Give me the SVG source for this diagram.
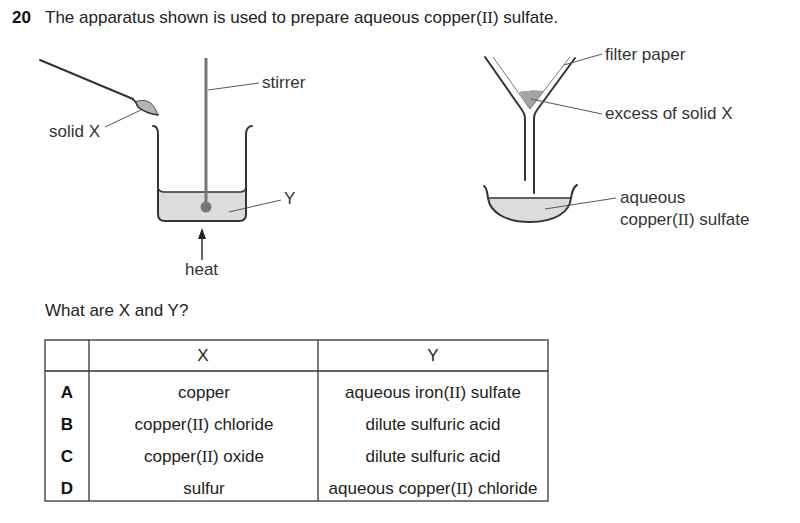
<svg xmlns="http://www.w3.org/2000/svg" width="800" height="523" viewBox="0 0 800 523">
<defs><marker id="arrow" markerUnits="userSpaceOnUse" markerWidth="11" markerHeight="8" refX="0" refY="4" orient="auto" viewBox="0 0 11 8"><path d="M0 0L11 4L0 8Z" fill="#222"/></marker></defs>
<style>
text{font-family:"Liberation Sans",Arial,sans-serif;font-size:17px;fill:#333}
.q{fill:#222}
.r{font-family:"Liberation Serif","Times New Roman",serif}
.m{text-anchor:middle;fill:#222}
.b{font-weight:700;fill:#111}
.ink{fill:none;stroke:#333;stroke-width:2;stroke-linecap:round;stroke-linejoin:round}
.lead{fill:none;stroke:#555;stroke-width:1}
.grid{fill:none;stroke:#333;stroke-width:1.300}
</style>
<rect width="800" height="523" fill="#fff"/>
<g id="question">
<text x="12" y="23" class="b">20</text>
<text x="45" y="23" class="q">The apparatus shown is used to prepare aqueous copper(<tspan class="r">II</tspan>) sulfate.</text>
<text x="45" y="316" class="q">What are X and Y?</text>
</g>
<g id="spatula">
<path class="ink" d="M40 60L133 99"/>
<path d="M133 100C136 100 136 104 138 107C144 112 151 114 158 115C156 110 154 105 149 102C145 100 140 100 135 102Z" fill="#b4b4b4" stroke="#444" stroke-width="1"/>
<path class="ink" style="stroke-width:1.600" d="M133 100C136 100 136 104 138 107C144 112 151 114 158 115"/>
</g>
<g id="beaker">
<path d="M158 192H246V214Q246 221 239 221H165Q158 221 158 214Z" fill="#dcdcdc"/>
<path class="ink" d="M153 126C157 126 158 130 158 134V214Q158 221 165 221H239Q246 221 246 214V134C246 130 248 126 252 126"/>
<path class="ink" style="stroke-width:1.500" d="M158 188C159 191 161 192 164 192H240C243 192 245 191 246 188"/>
<path d="M206 58V207" stroke="#777" stroke-width="3" fill="none"/>
<circle cx="206" cy="207" r="5.500" fill="#777"/>
</g>
<g id="funnel">
<path d="M519 92C524 90 528 92 532 90C536 90 540 91 544 91L530 109Z" fill="#a4a4a4"/>
<path class="ink" d="M485 57L522 110Q525 114 525 118V180"/>
<path class="ink" d="M575 58L537 110Q534 114 534 118V193"/>
<path d="M493 57L530 109L570 57" fill="none" stroke="#777" stroke-width="1"/>
</g>
<g id="dish">
<path d="M489 198H571C570 212 555 222 530 222C505 222 490 212 489 198Z" fill="#dcdcdc"/>
<path class="ink" d="M484 186C487 188 487 192 488 198C490 212 505 222 530 222C555 222 570 212 571 198C572 192 573 187 577 185"/>
<path class="ink" style="stroke-width:1.500" d="M489 198H571"/>
</g>
<g id="connectors">
<path class="lead" d="M208 90L259 83"/>
<path class="lead" d="M105 127L141 110"/>
<path class="lead" d="M229 212L281 200"/>
<path class="ink" style="stroke-width:1.500;stroke-linecap:butt" d="M202 260V239" marker-end="url(#arrow)"/>
<path class="lead" d="M564 65L602 54"/>
<path class="lead" d="M531 99L602 114"/>
<path class="lead" d="M545 209L616 198"/>
</g>
<g id="labels">
<text x="262" y="88">stirrer</text>
<text x="49" y="137">solid X</text>
<text x="284" y="204">Y</text>
<text x="185" y="275">heat</text>
<text x="605" y="60">filter paper</text>
<text x="605" y="119">excess of solid X</text>
<text x="620" y="203">aqueous</text>
<text x="620" y="225">copper(<tspan class="r">II</tspan>) sulfate</text>
</g>
<g id="table">
<rect class="grid" x="45" y="340" width="503" height="161"/>
<path class="grid" d="M45 371H548M89 340V501M318 340V501"/>
<text x="203" y="361" class="m">X</text><text x="433" y="361" class="m">Y</text>
<text x="67" y="398" class="m b">A</text><text x="204" y="398" class="m">copper</text><text x="433" y="398" class="m">aqueous iron(<tspan class="r">II</tspan>) sulfate</text>
<text x="67" y="430" class="m b">B</text><text x="204" y="430" class="m">copper(<tspan class="r">II</tspan>) chloride</text><text x="433" y="430" class="m">dilute sulfuric acid</text>
<text x="67" y="462" class="m b">C</text><text x="204" y="462" class="m">copper(<tspan class="r">II</tspan>) oxide</text><text x="433" y="462" class="m">dilute sulfuric acid</text>
<text x="67" y="494" class="m b">D</text><text x="204" y="494" class="m">sulfur</text><text x="433" y="494" class="m">aqueous copper(<tspan class="r">II</tspan>) chloride</text>
</g>
</svg>
